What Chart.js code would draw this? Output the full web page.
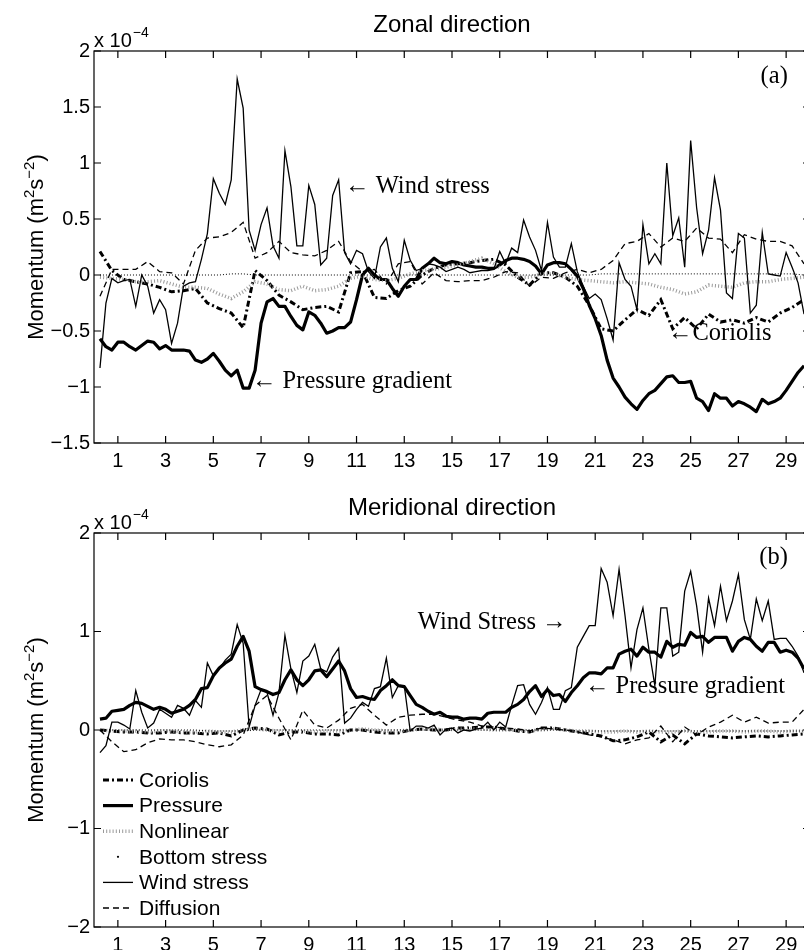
<!DOCTYPE html>
<html>
<head>
<meta charset="utf-8">
<script src="https://cdn.jsdelivr.net/npm/chart.js@4/dist/chart.umd.min.js"></script>
<style>
  html, body { margin: 0; padding: 0; background: #fff; overflow: hidden; width: 804px; height: 950px; }
  .panel { position: absolute; left: 0; width: 812px; height: 475px; }
  #zonalBox { top: 0; }
  #meridBox { top: 475px; }
</style>
</head>
<body>
<div class="panel" id="zonalBox"><canvas id="zonal" width="812" height="475"></canvas></div>
<div class="panel" id="meridBox"><canvas id="merid" width="812" height="475"></canvas></div>
<script>
// ---- time axes (days) ----
// six-hourly samples for wind stress and pressure, twelve-hourly for the other terms
const QUARTER_DAYS = Array.from({ length: 119 }, (_, i) => 0.25 * (i + 1));       // 0.25 .. 29.75
const HALF_DAYS = Array.from({ length: 60 }, (_, i) => 0.25 + 0.5 * i);            // 0.25 .. 29.75
const DAY_TICKS = [1, 3, 5, 7, 9, 11, 13, 15, 17, 19, 21, 23, 25, 27, 29];
const ZONAL_Y_TICKS = [-1.5, -1, -0.5, 0, 0.5, 1, 1.5, 2];
const MERID_Y_TICKS = [-2, -1, 0, 1, 2];

// ---- zonal momentum balance (units of 1e-4 m^2 s^-2) ----
const ZONAL_WIND = [
  -0.83,-0.25,-0.03,-0.07,-0.05,-0.04,-0.28,0.00,-0.10,-0.34,-0.22,-0.31,-0.61,-0.43,-0.10,-0.07,-0.06,0.14,0.37,0.86,
  0.73,0.63,0.85,1.75,1.49,0.40,0.22,0.45,0.60,0.26,0.15,1.11,0.79,0.26,0.26,0.80,0.63,0.09,0.15,0.71,
  0.85,0.20,0.10,0.22,0.19,0.03,-0.03,0.25,0.33,0.06,-0.06,0.31,0.13,0.04,0.06,0.10,0.09,0.07,0.03,0.05,
  0.07,0.05,0.02,0.03,0.04,0.04,0.05,0.21,0.10,0.24,0.20,0.49,0.34,0.22,0.04,0.47,0.16,0.07,0.07,0.28,
  0.03,-0.10,-0.21,-0.17,-0.22,-0.39,-0.58,0.11,-0.04,-0.10,-0.31,0.45,0.10,0.19,0.10,1.00,0.35,0.51,0.07,1.20,
  0.60,0.19,0.40,0.87,0.58,-0.16,-0.21,0.37,0.33,-0.34,-0.27,0.38,0.01,0.00,-0.01,0.20,0.07,-0.07,-0.35
];
const ZONAL_PRESSURE = [
  -0.57,-0.64,-0.67,-0.60,-0.60,-0.64,-0.67,-0.63,-0.59,-0.60,-0.66,-0.63,-0.67,-0.67,-0.67,-0.68,-0.76,-0.78,-0.75,-0.70,
  -0.77,-0.85,-0.90,-0.85,-1.01,-1.01,-0.85,-0.43,-0.24,-0.21,-0.28,-0.28,-0.37,-0.45,-0.49,-0.33,-0.36,-0.43,-0.52,-0.50,
  -0.47,-0.47,-0.42,-0.22,0.00,0.06,0.00,-0.04,-0.04,-0.12,-0.19,-0.10,-0.04,-0.04,0.06,0.10,0.15,0.11,0.10,0.12,
  0.11,0.09,0.08,0.07,0.07,0.06,0.06,0.09,0.13,0.15,0.15,0.14,0.12,0.08,0.01,0.09,0.11,0.11,0.10,0.05,
  -0.01,-0.12,-0.27,-0.39,-0.54,-0.76,-0.92,-1.00,-1.09,-1.15,-1.20,-1.12,-1.06,-1.03,-0.97,-0.91,-0.90,-0.96,-0.96,-0.95,
  -1.10,-1.13,-1.21,-1.06,-1.10,-1.10,-1.17,-1.13,-1.15,-1.18,-1.22,-1.11,-1.15,-1.13,-1.10,-1.03,-0.95,-0.87,-0.81
];
const ZONAL_CORIOLIS = [
  0.21,0.04,-0.04,-0.06,-0.08,-0.11,-0.15,-0.14,-0.12,-0.25,
  -0.30,-0.34,-0.47,0.04,-0.05,-0.18,-0.24,-0.31,-0.29,-0.28,
  -0.33,0.02,0.03,-0.20,-0.21,-0.14,-0.10,0.00,0.06,0.09,
  0.10,0.11,0.13,0.14,0.09,-0.02,-0.09,0.02,0.02,-0.02,
  -0.10,-0.27,-0.48,-0.50,-0.40,-0.31,-0.36,-0.22,-0.48,-0.38,
  -0.48,-0.35,-0.42,-0.40,-0.43,-0.38,-0.42,-0.34,-0.29,-0.22
];
const ZONAL_NONLINEAR = [
  -0.02,-0.03,-0.04,-0.06,-0.06,-0.05,-0.08,-0.11,-0.11,-0.12,
  -0.17,-0.21,-0.15,-0.06,-0.08,-0.13,-0.14,-0.10,-0.14,-0.13,
  -0.10,-0.03,-0.01,-0.04,-0.05,-0.03,0.01,0.04,0.05,0.07,
  0.09,0.12,0.15,0.10,0.03,-0.02,-0.02,0.01,0.01,-0.02,
  -0.04,-0.05,-0.06,-0.07,-0.06,-0.07,-0.08,-0.11,-0.13,-0.17,
  -0.15,-0.09,-0.10,-0.11,-0.07,-0.06,-0.06,-0.04,-0.03,-0.02
];
const ZONAL_BOTTOM = [
  0.00,0.00,0.00,0.00,0.00,0.00,0.00,0.00,0.00,0.00,
  0.00,0.01,0.01,0.00,0.00,0.00,0.00,0.00,0.00,0.00,
  0.00,0.00,0.00,0.00,0.00,0.00,0.00,0.00,0.00,0.00,
  0.00,0.00,0.00,0.00,0.00,0.00,0.00,0.00,0.00,0.00,
  0.00,0.00,0.01,0.01,0.01,0.01,0.01,0.01,0.01,0.01,
  0.01,0.01,0.01,0.01,0.01,0.01,0.01,0.01,0.01,0.00
];
const ZONAL_DIFFUSION = [
  -0.19,0.05,0.05,0.05,0.12,0.03,0.02,-0.08,0.22,0.33,
  0.34,0.38,0.47,0.15,0.20,0.30,0.20,0.18,0.17,0.22,
  0.30,0.12,0.03,0.05,-0.08,0.10,0.12,-0.08,0.02,-0.05,
  -0.06,-0.05,-0.05,-0.02,0.03,0.02,-0.10,-0.02,-0.03,0.02,
  0.05,0.02,0.05,0.13,0.28,0.30,0.37,0.25,0.33,0.30,
  0.42,0.33,0.32,0.20,0.36,0.32,0.30,0.30,0.26,0.10
];

// ---- meridional momentum balance (units of 1e-4 m^2 s^-2) ----
const MERID_WIND = [
  -0.23,-0.16,0.08,0.08,0.05,0.01,0.40,0.18,0.02,0.07,0.21,0.17,0.13,0.25,0.22,0.15,0.30,0.23,0.68,0.55,
  0.62,0.71,0.77,1.07,0.88,0.03,0.25,0.41,0.38,0.15,0.38,0.96,0.62,0.38,0.70,0.75,0.87,0.62,0.59,0.74,
  0.83,0.07,0.12,0.21,0.28,0.24,0.42,0.44,0.73,0.33,0.45,0.45,-0.01,0.04,0.04,0.02,0.05,-0.05,0.01,0.02,
  -0.03,0.00,-0.01,0.01,0.02,0.08,0.00,0.08,0.03,0.25,0.45,0.46,0.26,0.16,0.28,0.43,0.21,0.21,0.40,0.43,
  0.84,0.95,1.06,1.06,1.64,1.50,1.16,1.63,1.16,0.63,1.02,1.24,0.82,0.45,1.24,1.24,0.75,0.79,1.41,1.61,
  1.26,0.79,1.34,1.06,1.46,1.11,1.31,1.58,1.12,0.92,1.33,1.11,1.31,0.92,0.93,0.93,0.85,0.75,0.58
];
const MERID_PRESSURE = [
  0.11,0.12,0.19,0.20,0.21,0.25,0.28,0.27,0.24,0.21,0.23,0.21,0.17,0.19,0.21,0.25,0.31,0.42,0.43,0.55,
  0.63,0.68,0.72,0.85,0.95,0.80,0.44,0.41,0.39,0.36,0.38,0.51,0.61,0.51,0.45,0.51,0.60,0.61,0.54,0.62,
  0.70,0.60,0.42,0.33,0.34,0.32,0.31,0.40,0.45,0.51,0.45,0.44,0.35,0.26,0.23,0.19,0.16,0.18,0.14,0.13,
  0.13,0.11,0.12,0.12,0.11,0.17,0.18,0.18,0.18,0.23,0.26,0.31,0.39,0.45,0.34,0.41,0.35,0.36,0.29,0.38,
  0.45,0.53,0.58,0.58,0.57,0.63,0.63,0.77,0.80,0.82,0.75,0.84,0.79,0.79,0.74,0.90,0.84,0.87,0.86,0.99,
  0.94,0.95,0.89,0.94,0.94,0.94,0.80,0.90,0.94,0.92,0.85,0.80,0.89,0.89,0.79,0.81,0.79,0.73,0.62
];
const MERID_CORIOLIS = [
  0.00,-0.01,-0.02,-0.02,-0.03,-0.03,-0.02,-0.03,-0.03,-0.04,
  -0.03,-0.06,0.00,0.02,0.01,-0.05,-0.02,-0.02,-0.04,-0.04,
  -0.05,0.00,0.00,-0.02,-0.03,-0.03,0.00,0.01,0.00,0.00,
  0.02,0.02,0.03,0.03,0.01,-0.01,-0.02,0.02,0.02,0.00,
  -0.02,-0.04,-0.06,-0.11,-0.10,-0.07,-0.02,-0.12,-0.05,-0.14,
  -0.04,-0.06,-0.07,-0.08,-0.07,-0.06,-0.07,-0.06,-0.05,-0.04
];
const MERID_NONLINEAR = [
  0.00,-0.01,-0.01,-0.01,-0.02,-0.01,-0.01,-0.02,-0.02,-0.01,
  -0.02,-0.02,0.00,0.01,0.00,-0.01,-0.01,-0.01,-0.02,-0.01,
  -0.01,0.00,0.01,0.00,-0.01,-0.01,0.00,0.01,0.01,0.00,
  0.01,0.01,0.01,0.00,0.00,0.00,-0.01,0.00,0.01,0.00,
  -0.01,-0.01,-0.02,-0.02,-0.01,-0.02,-0.01,-0.02,-0.02,-0.01,
  -0.02,-0.02,-0.01,-0.01,-0.02,-0.01,-0.01,-0.02,-0.01,-0.01
];
const MERID_BOTTOM = [
  0.00,0.00,0.00,0.00,0.00,0.00,0.00,0.00,0.00,-0.01,
  -0.01,-0.01,-0.01,0.00,0.00,0.00,0.00,0.00,0.00,0.00,
  0.00,0.00,0.00,0.00,0.00,0.00,0.00,0.00,0.00,0.00,
  0.00,0.00,0.00,0.00,0.00,0.00,0.00,0.00,0.00,0.00,
  -0.01,-0.01,-0.01,-0.01,-0.01,-0.01,-0.01,-0.01,-0.01,-0.01,
  -0.01,-0.01,-0.01,-0.01,-0.01,-0.01,-0.01,-0.01,-0.01,-0.01
];
const MERID_DIFFUSION = [
  0.00,-0.12,-0.22,-0.20,-0.13,-0.09,-0.10,-0.10,-0.12,-0.15,
  -0.17,-0.15,-0.05,0.25,0.35,0.12,-0.10,0.20,0.05,0.02,
  0.10,0.22,0.26,0.15,0.05,0.13,0.15,0.16,0.16,0.13,
  0.10,0.08,0.04,0.03,0.02,0.01,-0.01,0.02,0.01,0.00,
  -0.02,-0.05,-0.07,-0.10,-0.14,-0.10,-0.08,0.04,-0.12,0.03,
  -0.05,0.03,0.08,0.15,0.08,0.13,0.07,0.08,0.08,0.21
];

// ---- line styles for each term ----
const TERMS = [
  { key: 'coriolis',  label: 'Coriolis',      color: '#000',    width: 3,   dash: [6, 3, 2, 3], order: 6 },
  { key: 'pressure',  label: 'Pressure',      color: '#000',    width: 3.2, dash: [],           order: 5 },
  { key: 'nonlinear', label: 'Nonlinear',     color: '#9a9a9a', width: 3.5, dash: [1, 2.2],     order: 4 },
  { key: 'bottom',    label: 'Bottom stress', color: '#000',    width: 1,   dash: [1, 2],       order: 3, dotOnly: true },
  { key: 'wind',      label: 'Wind stress',   color: '#000',    width: 1.3, dash: [],           order: 2 },
  { key: 'diffusion', label: 'Diffusion',     color: '#000',    width: 1.3, dash: [6, 4],       order: 1 }
];

const SANS = '"Liberation Sans", Arial, Helvetica, sans-serif';
const SERIF = '"Liberation Serif", "Times New Roman", "DejaVu Serif", serif';

function points(days, values) {
  return values.map((v, i) => ({ x: days[i], y: v }));
}

function buildDatasets(series) {
  return TERMS.map(t => ({
    label: t.label,
    data: points(series[t.key][0], series[t.key][1]),
    borderColor: t.color,
    borderWidth: t.width,
    borderDash: t.dash,
    borderCapStyle: 'butt',
    borderJoinStyle: t.key === 'pressure' ? 'round' : 'miter',
    pointRadius: 0,
    tension: 0,
    fill: false,
    order: t.order
  }));
}

function fmt(v) {
  const s = String(Math.abs(v));
  return v < 0 ? '\u2212' + s : s;
}

// draws the y-axis label with raised exponents, rotated
function drawYTitle(ctx, x, cy) {
  const parts = [
    ['Momentum (m', 22, 0], ['2', 15, -9], ['s', 22, 0], ['\u22122', 15, -9], [')', 22, 0]
  ];
  let total = 0;
  parts.forEach(p => { ctx.font = p[1] + 'px ' + SANS; total += ctx.measureText(p[0]).width; });
  ctx.save();
  ctx.translate(x, cy);
  ctx.rotate(-Math.PI / 2);
  ctx.textAlign = 'left';
  ctx.textBaseline = 'alphabetic';
  let pos = -total / 2;
  parts.forEach(p => {
    ctx.font = p[1] + 'px ' + SANS;
    ctx.fillText(p[0], pos, p[2]);
    pos += ctx.measureText(p[0]).width;
  });
  ctx.restore();
}

function drawLegend(ctx, a) {
  const step = 25.6;
  const x1 = a.left + 9, x2 = a.left + 39, tx = a.left + 45;
  ctx.textAlign = 'left';
  ctx.textBaseline = 'middle';
  ctx.font = '21px ' + SANS;
  TERMS.forEach((t, i) => {
    const y = a.bottom - 19 - (TERMS.length - 1 - i) * step;
    ctx.strokeStyle = t.color;
    ctx.fillStyle = t.color;
    if (t.dotOnly) {
      ctx.beginPath();
      ctx.arc((x1 + x2) / 2, y, 1.1, 0, Math.PI * 2);
      ctx.fill();
    } else {
      ctx.lineWidth = t.width;
      ctx.lineCap = 'butt';
      ctx.setLineDash(t.dash);
      ctx.beginPath();
      ctx.moveTo(x1, y);
      ctx.lineTo(x2, y);
      ctx.stroke();
      ctx.setLineDash([]);
    }
    ctx.fillStyle = '#000';
    ctx.fillText(t.label, tx, y + 1);
  });
}

// serif note: arrow glyph and words set as one run
function drawNote(ctx, n, px, py) {
  ctx.font = '24.5px ' + SERIF;
  ctx.textAlign = n.align;
  ctx.textBaseline = 'middle';
  ctx.fillText(n.text, px, py);
}

// frame with inward ticks on all four sides, titles, exponent, notes, legend
const panelDecor = {
  id: 'panelDecor',
  afterDraw(chart, _args, o) {
    const { ctx, chartArea: a, scales } = chart;
    const xs = scales.x, ys = scales.y;
    ctx.save();
    ctx.setLineDash([]);
    ctx.strokeStyle = '#000';
    ctx.lineWidth = 1.2;
    ctx.strokeRect(a.left, a.top, a.right - a.left, a.bottom - a.top);
    const L = 7;
    ctx.beginPath();
    xs.ticks.forEach(t => {
      const p = xs.getPixelForValue(t.value);
      ctx.moveTo(p, a.bottom); ctx.lineTo(p, a.bottom - L);
      ctx.moveTo(p, a.top); ctx.lineTo(p, a.top + L);
    });
    ys.ticks.forEach(t => {
      const p = ys.getPixelForValue(t.value);
      ctx.moveTo(a.left, p); ctx.lineTo(a.left + L, p);
      ctx.moveTo(a.right, p); ctx.lineTo(a.right - L, p);
    });
    ctx.stroke();

    ctx.fillStyle = '#000';
    ctx.font = '24px ' + SANS;
    ctx.textAlign = 'center';
    ctx.textBaseline = 'middle';
    ctx.fillText(o.title, (a.left + a.right) / 2, o.titleY);

    ctx.textAlign = 'left';
    ctx.textBaseline = 'alphabetic';
    ctx.font = '20px ' + SANS;
    ctx.fillText('x 10', a.left, a.top - 4);
    const w = ctx.measureText('x 10').width;
    ctx.font = '14px ' + SANS;
    ctx.fillText('\u22124', a.left + w + 1, a.top - 14);

    drawYTitle(ctx, 43, (a.top + a.bottom) / 2);

    o.notes.forEach(n => drawNote(ctx, n, xs.getPixelForValue(n.x), ys.getPixelForValue(n.y)));

    if (o.legend) drawLegend(ctx, a);
    ctx.restore();
  }
};

function makePanel(canvasId, series, yMin, yMax, yTicks, pad, xHeight, decor) {
  return new Chart(document.getElementById(canvasId), {
    type: 'line',
    data: { datasets: buildDatasets(series) },
    options: {
      responsive: false,
      animation: false,
      events: [],
      parsing: false,
      layout: { padding: { top: pad, right: 2, bottom: 0, left: 0 } },
      plugins: { legend: { display: false }, tooltip: { enabled: false }, panelDecor: decor },
      scales: {
        x: {
          type: 'linear', min: 0, max: 30,
          grid: { display: false, drawTicks: false },
          border: { display: false },
          afterBuildTicks: s => { s.ticks = DAY_TICKS.map(v => ({ value: v })); },
          afterFit: s => { s.height = xHeight; },
          ticks: { color: '#000', font: { family: SANS, size: 20 }, padding: 6, maxRotation: 0, autoSkip: false,
                   callback: v => fmt(v) }
        },
        y: {
          type: 'linear', min: yMin, max: yMax,
          grid: { display: false, drawTicks: false },
          border: { display: false },
          afterBuildTicks: s => { s.ticks = yTicks.map(v => ({ value: v })); },
          afterFit: s => { s.width = 94; },
          ticks: { color: '#000', font: { family: SANS, size: 20 }, padding: 4, autoSkip: false,
                   callback: v => fmt(v) }
        }
      }
    },
    plugins: [panelDecor]
  });
}

makePanel('zonal', {
  coriolis: [HALF_DAYS, ZONAL_CORIOLIS],
  pressure: [QUARTER_DAYS, ZONAL_PRESSURE],
  nonlinear: [HALF_DAYS, ZONAL_NONLINEAR],
  bottom: [HALF_DAYS, ZONAL_BOTTOM],
  wind: [QUARTER_DAYS, ZONAL_WIND],
  diffusion: [HALF_DAYS, ZONAL_DIFFUSION]
}, -1.5, 2, ZONAL_Y_TICKS, 51, 32, {
  title: 'Zonal direction', titleY: 25, legend: false,
  notes: [
    { text: '\u2190 Wind stress', x: 10.52, y: 0.79, align: 'left' },
    { text: '\u2190 Pressure gradient', x: 6.62, y: -0.95, align: 'left' },
    { text: '\u2190Coriolis', x: 24.05, y: -0.52, align: 'left' },
    { text: '(a)', x: 29.07, y: 1.77, align: 'right' }
  ]
});

makePanel('merid', {
  coriolis: [HALF_DAYS, MERID_CORIOLIS],
  pressure: [QUARTER_DAYS, MERID_PRESSURE],
  nonlinear: [HALF_DAYS, MERID_NONLINEAR],
  bottom: [HALF_DAYS, MERID_BOTTOM],
  wind: [QUARTER_DAYS, MERID_WIND],
  diffusion: [HALF_DAYS, MERID_DIFFUSION]
}, -2, 2, MERID_Y_TICKS, 58, 23, {
  title: 'Meridional direction', titleY: 33, legend: true,
  notes: [
    { text: 'Wind Stress \u2192', x: 13.57, y: 1.09, align: 'left' },
    { text: '\u2190 Pressure gradient', x: 20.57, y: 0.44, align: 'left' },
    { text: '(b)', x: 29.07, y: 1.75, align: 'right' }
  ]
});
</script>
</body>
</html>
